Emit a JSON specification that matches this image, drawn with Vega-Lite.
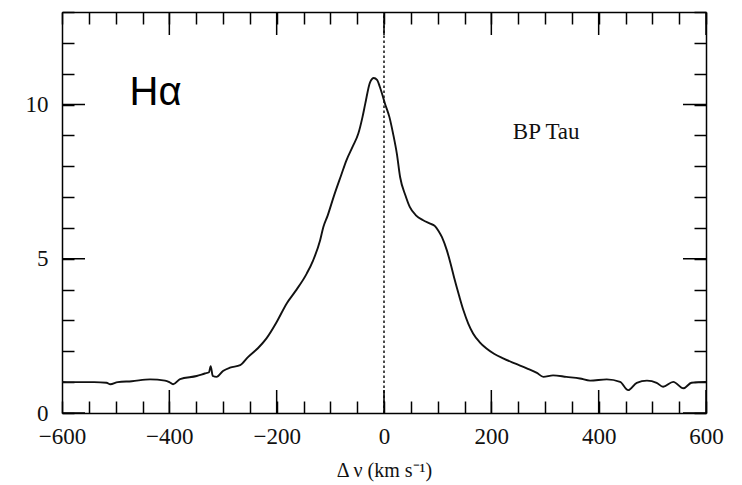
{
  "$schema": "https://vega.github.io/schema/vega-lite/v6.json",
  "width": 644,
  "height": 401,
  "autosize": "none",
  "padding": {"left": 62, "top": 12, "right": 36, "bottom": 72},
  "background": "white",
  "config": {
    "view": {"stroke": null},
    "axis": {
      "domainColor": "black",
      "domainWidth": 1.5,
      "tickColor": "black",
      "tickWidth": 1.5,
      "tickSize": -12,
      "grid": false,
      "labelFont": "Liberation Serif",
      "labelFontSize": 23,
      "labelColor": "#111",
      "labelFlush": false,
      "labelOverlap": false,
      "titleFont": "Liberation Serif",
      "titleFontSize": 20,
      "titleFontWeight": "normal",
      "titleColor": "#111"
    }
  },
  "datasets": {
    "profile": [
      {"v": -600, "flux": 1.01}, {"v": -570, "flux": 1.0}, {"v": -540, "flux": 1.0},
      {"v": -517, "flux": 0.98}, {"v": -510, "flux": 0.93}, {"v": -496, "flux": 1.0},
      {"v": -470, "flux": 1.03}, {"v": -436, "flux": 1.09}, {"v": -408, "flux": 1.05},
      {"v": -400, "flux": 1.0}, {"v": -393, "flux": 0.93}, {"v": -380, "flux": 1.1},
      {"v": -349, "flux": 1.2}, {"v": -334, "flux": 1.28}, {"v": -326, "flux": 1.32},
      {"v": -323, "flux": 1.52}, {"v": -319, "flux": 1.2}, {"v": -312, "flux": 1.17},
      {"v": -300, "flux": 1.36}, {"v": -287, "flux": 1.47}, {"v": -268, "flux": 1.55},
      {"v": -253, "flux": 1.82}, {"v": -235, "flux": 2.1}, {"v": -219, "flux": 2.42},
      {"v": -200, "flux": 2.95}, {"v": -181, "flux": 3.56}, {"v": -165, "flux": 3.95},
      {"v": -144, "flux": 4.52}, {"v": -132, "flux": 4.95}, {"v": -119, "flux": 5.6},
      {"v": -113, "flux": 6.03}, {"v": -105, "flux": 6.4}, {"v": -94, "flux": 7.0},
      {"v": -80, "flux": 7.7}, {"v": -70, "flux": 8.19}, {"v": -58, "flux": 8.65},
      {"v": -48, "flux": 9.05}, {"v": -40, "flux": 9.6}, {"v": -35, "flux": 10.02},
      {"v": -26, "flux": 10.72}, {"v": -19, "flux": 10.86}, {"v": -13, "flux": 10.8},
      {"v": -7.5, "flux": 10.56}, {"v": 2, "flux": 10.02}, {"v": 10, "flux": 9.6},
      {"v": 17, "flux": 9.05}, {"v": 24, "flux": 8.4}, {"v": 30, "flux": 7.65},
      {"v": 40, "flux": 7.05}, {"v": 48, "flux": 6.68}, {"v": 60, "flux": 6.4},
      {"v": 73, "flux": 6.25}, {"v": 86, "flux": 6.14}, {"v": 95, "flux": 6.06},
      {"v": 101, "flux": 5.92}, {"v": 108, "flux": 5.7}, {"v": 117, "flux": 5.28},
      {"v": 124, "flux": 4.85}, {"v": 132, "flux": 4.3}, {"v": 140, "flux": 3.8},
      {"v": 148, "flux": 3.33}, {"v": 157, "flux": 2.9}, {"v": 166, "flux": 2.58},
      {"v": 178, "flux": 2.3}, {"v": 191, "flux": 2.09}, {"v": 205, "flux": 1.92},
      {"v": 222, "flux": 1.77}, {"v": 245, "flux": 1.6}, {"v": 266, "flux": 1.45},
      {"v": 285, "flux": 1.3}, {"v": 297, "flux": 1.17}, {"v": 315, "flux": 1.22},
      {"v": 340, "flux": 1.17}, {"v": 365, "flux": 1.12}, {"v": 384, "flux": 1.05},
      {"v": 415, "flux": 1.09}, {"v": 440, "flux": 1.01}, {"v": 455, "flux": 0.74},
      {"v": 471, "flux": 0.98}, {"v": 490, "flux": 1.05}, {"v": 508, "flux": 0.98},
      {"v": 520, "flux": 0.85}, {"v": 539, "flux": 1.01}, {"v": 558, "flux": 0.8},
      {"v": 573, "flux": 0.98}, {"v": 598, "flux": 1.01}, {"v": 600, "flux": 1.01}
    ],
    "restframe": [{"v": 0, "lo": 0, "hi": 13}],
    "line_label": [{"v": -474, "flux": 10.0, "text": "Hα"}],
    "star_label": [{"v": 240, "flux": 8.89, "text": "BP Tau"}],
    "major_v": [{"v": -600}, {"v": -400}, {"v": -200}, {"v": 0}, {"v": 200}, {"v": 400}, {"v": 600}],
    "major_flux": [{"flux": 0}, {"flux": 5}, {"flux": 10}]
  },
  "resolve": {"axis": {"x": "independent", "y": "independent"}},
  "encoding": {
    "x": {"type": "quantitative", "scale": {"domain": [-600, 600], "nice": false, "zero": false}},
    "y": {"type": "quantitative", "scale": {"domain": [0, 13], "nice": false, "zero": false}}
  },
  "layer": [
    {
      "data": {"name": "profile"},
      "mark": {"type": "line", "color": "#111", "strokeWidth": 1.9, "interpolate": "monotone"},
      "encoding": {
        "x": {
          "field": "v", "type": "quantitative",
          "axis": {
            "orient": "bottom",
            "title": "Δ ν (km s⁻¹)",
            "titleY": 63,
            "titleBaseline": "alphabetic",
            "values": [-600, -550, -500, -450, -400, -350, -300, -250, -200, -150, -100, -50, 0, 50, 100, 150, 200, 250, 300, 350, 400, 450, 500, 550, 600],
            "labelExpr": "datum.value % 200 === 0 ? datum.label : ''",
            "labelPadding": 24
          }
        },
        "y": {
          "field": "flux", "type": "quantitative",
          "axis": {
            "orient": "left",
            "title": null,
            "values": [0, 1, 2, 3, 4, 5, 6, 7, 8, 9, 10, 11, 12, 13],
            "labelExpr": "datum.value % 5 === 0 ? datum.label : ''",
            "labelPadding": 26
          }
        }
      }
    },
    {
      "data": {"name": "restframe"},
      "mark": {"type": "rule", "color": "#111", "strokeWidth": 1.5, "strokeDash": [2.5, 2.5]},
      "encoding": {
        "x": {
          "field": "v", "type": "quantitative",
          "axis": {
            "orient": "top",
            "title": null,
            "labels": false,
            "values": [-600, -550, -500, -450, -400, -350, -300, -250, -200, -150, -100, -50, 0, 50, 100, 150, 200, 250, 300, 350, 400, 450, 500, 550, 600]
          }
        },
        "y": {
          "field": "lo", "type": "quantitative",
          "axis": {
            "orient": "right",
            "title": null,
            "labels": false,
            "values": [0, 1, 2, 3, 4, 5, 6, 7, 8, 9, 10, 11, 12, 13]
          }
        },
        "y2": {"field": "hi"}
      }
    },
    {
      "data": {"name": "major_v"},
      "mark": {"type": "tick", "orient": "vertical", "color": "black", "size": 46, "thickness": 1.5, "clip": true, "opacity": 1},
      "encoding": {
        "x": {"field": "v", "type": "quantitative", "axis": null},
        "y": {"datum": 0, "type": "quantitative", "axis": null}
      }
    },
    {
      "data": {"name": "major_v"},
      "mark": {"type": "tick", "orient": "vertical", "color": "black", "size": 46, "thickness": 1.5, "clip": true, "opacity": 1},
      "encoding": {
        "x": {"field": "v", "type": "quantitative", "axis": null},
        "y": {"datum": 13, "type": "quantitative", "axis": null}
      }
    },
    {
      "data": {"name": "major_flux"},
      "mark": {"type": "tick", "orient": "horizontal", "color": "black", "size": 46, "thickness": 1.5, "clip": true, "opacity": 1},
      "encoding": {
        "x": {"datum": -600, "type": "quantitative", "axis": null},
        "y": {"field": "flux", "type": "quantitative", "axis": null}
      }
    },
    {
      "data": {"name": "major_flux"},
      "mark": {"type": "tick", "orient": "horizontal", "color": "black", "size": 46, "thickness": 1.5, "clip": true, "opacity": 1},
      "encoding": {
        "x": {"datum": 600, "type": "quantitative", "axis": null},
        "y": {"field": "flux", "type": "quantitative", "axis": null}
      }
    },
    {
      "data": {"name": "line_label"},
      "mark": {"type": "text", "font": "Liberation Sans", "fontSize": 40, "align": "left", "baseline": "alphabetic", "color": "black"},
      "encoding": {
        "x": {"field": "v", "type": "quantitative", "axis": null},
        "y": {"field": "flux", "type": "quantitative", "axis": null},
        "text": {"field": "text"}
      }
    },
    {
      "data": {"name": "star_label"},
      "mark": {"type": "text", "font": "Liberation Serif", "fontSize": 23, "align": "left", "baseline": "alphabetic", "color": "#111"},
      "encoding": {
        "x": {"field": "v", "type": "quantitative", "axis": null},
        "y": {"field": "flux", "type": "quantitative", "axis": null},
        "text": {"field": "text"}
      }
    }
  ]
}
